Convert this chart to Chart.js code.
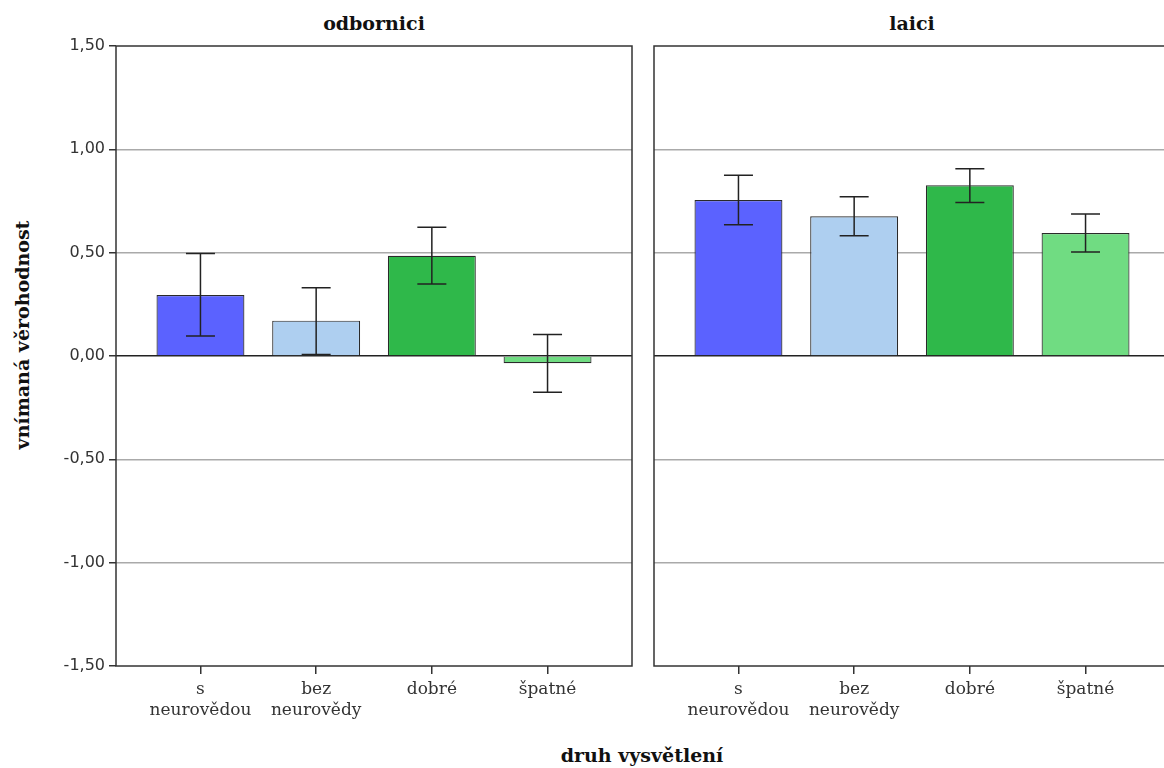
<!DOCTYPE html>
<html>
<head>
<meta charset="utf-8">
<script src="https://cdn.jsdelivr.net/npm/chart.js@4"></script>
<style>
  html, body { margin:0; padding:0; background:#fff; overflow:hidden; }
  #wrap { position:relative; width:1164px; height:768px; overflow:hidden; }
  canvas { position:absolute; top:0; }
  .t { position:absolute; font-family:"DejaVu Serif", serif; font-weight:bold; font-size:19px;
       color:#111; white-space:nowrap; transform:translate(-50%,-50%); }
</style>
</head>
<body>
<div id="wrap">
  <div class="t" style="left:374px;top:23px">odbornici</div>
  <div class="t" style="left:912px;top:23px">laici</div>
  <div class="t" style="left:22px;top:335px;transform:translate(-50%,-50%) rotate(-90deg)">vnímaná věrohodnost</div>
  <div class="t" style="left:642px;top:755px">druh vysvětlení</div>
  <canvas id="cL" width="640" height="768" style="left:0"></canvas>
  <canvas id="cR" width="534" height="768" style="left:640px"></canvas>
</div>
<script>
// categories (multi-line tick labels) and y ticks
const categories = [['s', 'neurovědou'], ['bez', 'neurovědy'], ['dobré'], ['špatné']];
const yTicks = [-1.5, -1.0, -0.5, 0, 0.5, 1.0, 1.5];

// odbornici: means + 95% CI
const odborniciMeans = [0.295, 0.171, 0.485, -0.035];
const odborniciLow   = [0.097, 0.007, 0.348, -0.175];
const odborniciHigh  = [0.496, 0.330, 0.623, 0.104];

// laici
const laiciMeans = [0.755, 0.676, 0.826, 0.595];
const laiciLow   = [0.635, 0.582, 0.743, 0.503];
const laiciHigh  = [0.874, 0.770, 0.906, 0.687];

const barColors = ['#5b62ff', '#aecff0', '#2fb84a', '#70dc82'];

const frameAndErrors = {
  id: 'frameAndErrors',
  afterDatasetsDraw(chart, args, opts) {
    const { ctx, chartArea: a, scales: { y } } = chart;
    ctx.save();
    ctx.strokeStyle = '#333';
    ctx.lineWidth = 1.5;
    ctx.strokeRect(a.left, a.top, a.right - a.left, a.bottom - a.top);
    ctx.strokeStyle = '#222';
    chart.getDatasetMeta(0).data.forEach((bar, i) => {
      const hi = y.getPixelForValue(opts.high[i]);
      const lo = y.getPixelForValue(opts.low[i]);
      const w = 14.5;
      ctx.beginPath();
      ctx.moveTo(bar.x, hi); ctx.lineTo(bar.x, lo);
      ctx.moveTo(bar.x - w, hi); ctx.lineTo(bar.x + w, hi);
      ctx.moveTo(bar.x - w, lo); ctx.lineTo(bar.x + w, lo);
      ctx.stroke();
    });
    ctx.restore();
  }
};

function makePanel(id, means, low, high, isLeft) {
  new Chart(document.getElementById(id), {
    type: 'bar',
    data: {
      datasets: [{
        data: means.map((v, i) => ({ x: i, y: v })),
        backgroundColor: barColors,
        borderColor: '#2a2a2a',
        borderWidth: 1.2,
        barPercentage: 0.76,
        categoryPercentage: 1
      }]
    },
    options: {
      responsive: false,
      animation: false,
      layout: { padding: { top: 46, bottom: 0, left: 0, right: isLeft ? 8 : 4 } },
      plugins: {
        legend: { display: false },
        tooltip: { enabled: false },
        frameAndErrors: { low, high }
      },
      scales: {
        x: {
          type: 'linear',
          offset: false,
          min: -0.73, max: 3.73,
          afterBuildTicks: s => { s.ticks = categories.map((c, i) => ({ value: i })); },
          afterFit: s => { s.height = 102; },
          ticks: {
            callback: v => categories[v],
            font: { family: '"DejaVu Serif", serif', size: 17, lineHeight: 1.25 },
            color: '#333', padding: 5, maxRotation: 0, autoSkip: false
          },
          grid: { offset: false, drawOnChartArea: false, drawTicks: true, tickLength: 8, color: '#333', lineWidth: 1.5 },
          border: { display: false }
        },
        y: {
          min: -1.5, max: 1.5,
          afterBuildTicks: s => { s.ticks = yTicks.map(v => ({ value: v })); },
          afterFit: s => { s.width = isLeft ? 116 : 14; },
          ticks: {
            display: isLeft,
            callback: v => v.toFixed(2).replace('.', ','),
            font: { family: '"DejaVu Sans", sans-serif', size: 16 },
            color: '#333', padding: 4
          },
          grid: {
            drawTicks: isLeft,
            tickLength: 7,
            tickColor: '#333',
            color: c => c.tick && c.tick.value === 0 ? '#222' : (Math.abs(c.tick ? c.tick.value : 0) === 1.5 ? 'rgba(0,0,0,0)' : '#aaaaaa'),
            lineWidth: 1.5
          },
          border: { display: false }
        }
      }
    },
    plugins: [frameAndErrors]
  });
}

makePanel('cL', odborniciMeans, odborniciLow, odborniciHigh, true);
makePanel('cR', laiciMeans, laiciLow, laiciHigh, false);
</script>
</body>
</html>
